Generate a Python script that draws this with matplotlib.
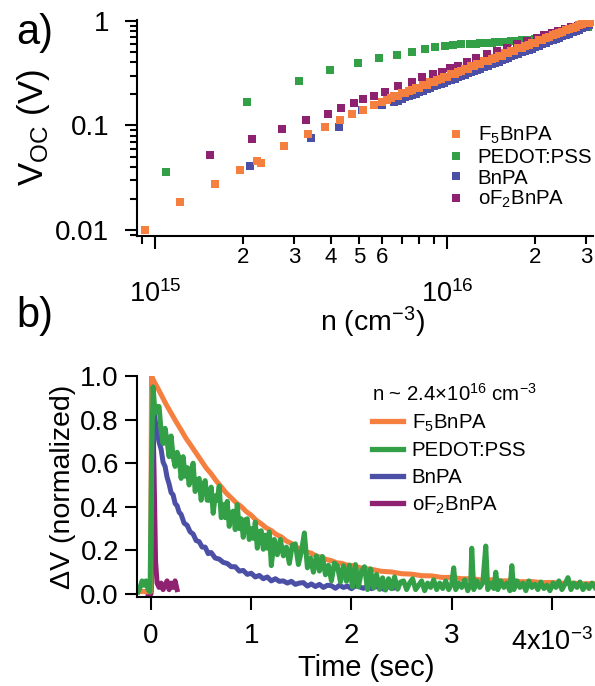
import matplotlib
matplotlib.use("Agg")
import matplotlib.pyplot as plt
import numpy as np

plt.rcParams["font.family"] = ["Liberation Sans", "DejaVu Sans"]
plt.rcParams["mathtext.fontset"] = "custom"
plt.rcParams["mathtext.rm"] = "Liberation Sans"
plt.rcParams["mathtext.it"] = "Liberation Sans:italic"
plt.rcParams["mathtext.bf"] = "Liberation Sans:bold"

ORANGE = "#f47f3e"
GREEN = "#33a047"
BLUE = "#4b4fa6"
PURPLE = "#8e2271"

# ---- panel a: Voc vs carrier density (n in units of 1e15 cm^-3, Voc in V) ----
f5_n = [0.924, 1.22, 1.60, 1.95, 2.23, 2.30, 2.77, 3.33, 3.82, 4.31, 4.72, 5.16,
        5.62, 6.0, 6.2, 6.4, 6.6, 6.8, 7.0, 7.2, 7.4, 7.6, 7.8, 8.0, 8.25, 8.5,
        8.75, 9.0, 9.25, 9.5, 9.75, 10.0, 10.3, 10.6, 10.9, 11.2, 11.5, 11.8,
        12.1, 12.4, 12.7, 13.0, 13.4, 13.8, 14.2, 14.6, 15.0, 15.4, 15.8, 16.2,
        16.6, 17.0, 17.5, 18.0, 18.5, 19.0, 19.5, 20.0, 20.6, 21.2, 21.8, 22.4,
        23.0, 23.6, 24.2, 24.8, 25.5, 26.2, 26.9, 27.6, 28.3, 29.0, 29.8, 30.6,
        31.4]
f5_v = [0.0100, 0.0184, 0.0275, 0.0375, 0.046, 0.044, 0.064, 0.082, 0.096, 0.113,
        0.128, 0.142, 0.156, 0.169, 0.177, 0.181, 0.190, 0.193, 0.203, 0.206,
        0.215, 0.218, 0.228, 0.230, 0.243, 0.246, 0.259, 0.262, 0.274, 0.277,
        0.290, 0.292, 0.308, 0.311, 0.327, 0.330, 0.347, 0.350, 0.367, 0.369,
        0.386, 0.389, 0.409, 0.414, 0.436, 0.440, 0.462, 0.466, 0.488, 0.493,
        0.515, 0.520, 0.545, 0.552, 0.578, 0.585, 0.612, 0.619, 0.650, 0.660,
        0.690, 0.700, 0.730, 0.741, 0.771, 0.782, 0.815, 0.830, 0.862, 0.878,
        0.905, 0.925, 0.945, 0.962, 0.982]

pedot_n = [1.09, 2.06, 3.11, 3.97, 4.95, 5.85, 6.76, 7.6, 8.4, 9.1, 9.8, 10.5,
           11.2, 12.0, 12.6, 13.0, 13.4, 13.8, 14.2, 14.6, 15.0, 15.4, 15.8,
           16.2, 16.6, 17.0, 17.5, 18.0, 18.5, 19.0, 19.5, 20.0, 20.6, 21.2,
           21.8, 22.4, 23.0, 23.6, 24.2, 24.8, 25.5, 26.2, 26.9, 27.6, 28.3,
           29.0, 29.8, 30.4]
pedot_v = [0.036, 0.168, 0.267, 0.337, 0.399, 0.44, 0.476, 0.502, 0.540, 0.560,
           0.580, 0.589, 0.598, 0.603, 0.607, 0.611, 0.612, 0.617, 0.618, 0.623,
           0.625, 0.628, 0.631, 0.634, 0.637, 0.641, 0.643, 0.649, 0.652, 0.658,
           0.662, 0.668, 0.676, 0.687, 0.697, 0.710, 0.721, 0.734, 0.746, 0.759,
           0.773, 0.789, 0.803, 0.819, 0.833, 0.849, 0.865, 0.878]

bn_n = [2.11, 3.41, 4.27, 5.12, 5.97, 6.6, 6.8, 7.0, 7.2, 7.4, 7.6, 7.8, 8.0,
        8.25, 8.5, 8.75, 9.0, 9.25, 9.5, 9.75, 10.0, 10.3, 10.6, 10.9, 11.2,
        11.5, 11.8, 12.1, 12.4, 12.7, 13.0, 13.4, 13.8, 14.2, 14.6, 15.0, 15.4,
        15.8, 16.2, 16.6, 17.0, 17.5, 18.0, 18.5, 19.0, 19.5, 20.0, 20.6, 21.2,
        21.8, 22.4, 23.0, 23.6, 24.2, 24.8, 25.5, 26.2, 26.9, 27.6, 28.3, 29.0,
        29.8, 30.6]
bn_v = [0.0407, 0.076, 0.0975, 0.141, 0.156, 0.168, 0.173, 0.180, 0.186, 0.191,
        0.197, 0.201, 0.208, 0.214, 0.222, 0.228, 0.236, 0.242, 0.250, 0.256,
        0.264, 0.271, 0.281, 0.288, 0.297, 0.305, 0.315, 0.322, 0.333, 0.339,
        0.350, 0.361, 0.374, 0.383, 0.398, 0.408, 0.422, 0.432, 0.446, 0.457,
        0.471, 0.484, 0.500, 0.513, 0.531, 0.542, 0.562, 0.578, 0.598, 0.615,
        0.635, 0.652, 0.672, 0.690, 0.712, 0.731, 0.756, 0.775, 0.802, 0.822,
        0.850, 0.872, 0.905]

of2_n = [1.54, 2.14, 2.72, 3.29, 3.90, 4.34, 4.81, 5.15, 5.6, 6.13, 6.81, 7.57,
         8.19, 8.97, 9.59, 10.2, 10.9, 11.7, 12.6, 13.7, 14.8, 16.0, 17.3, 18.7,
         20.3, 21.5, 22.8, 24.0, 25.3, 26.6, 28.0, 29.4, 30.8]
of2_v = [0.0526, 0.0738, 0.092, 0.113, 0.129, 0.148, 0.163, 0.178, 0.192, 0.208,
         0.240, 0.263, 0.293, 0.309, 0.327, 0.352, 0.373, 0.408, 0.446, 0.480,
         0.516, 0.548, 0.598, 0.644, 0.692, 0.725, 0.760, 0.795, 0.830, 0.865,
         0.900, 0.935, 0.965]

# ---- panel b: normalized transient photovoltage (time in ms) ----
f5_t = [-0.13, -0.08, -0.03, -0.005, 0.0, 0.005, 0.03, 0.06, 0.10, 0.15, 0.20,
        0.25, 0.30, 0.35, 0.40, 0.45, 0.50, 0.55, 0.60, 0.65, 0.70, 0.75, 0.80,
        0.85, 0.90, 0.95, 1.00, 1.05, 1.10, 1.15, 1.20, 1.25, 1.30, 1.35, 1.40,
        1.45, 1.50, 1.55, 1.60, 1.65, 1.70, 1.75, 1.80, 1.85, 1.90, 1.95, 2.00,
        2.10, 2.20, 2.30, 2.40, 2.50, 2.60, 2.70, 2.80, 2.90, 3.00, 3.10, 3.20,
        3.30, 3.40, 3.50, 3.60, 3.70, 3.80, 3.90, 4.00, 4.10, 4.20, 4.30, 4.43]
f5_dv = [0.010, 0.012, 0.010, 0.010, 0.50, 1.00, 0.975, 0.950, 0.915, 0.870, 0.830,
         0.790, 0.752, 0.713, 0.680, 0.646, 0.612, 0.578, 0.551, 0.519, 0.492, 0.463,
         0.441, 0.418, 0.401, 0.378, 0.361, 0.338, 0.322, 0.303, 0.291, 0.273, 0.262,
         0.243, 0.232, 0.214, 0.206, 0.193, 0.187, 0.173, 0.169, 0.158, 0.153, 0.143,
         0.141, 0.133, 0.131, 0.119, 0.113, 0.104, 0.101, 0.093, 0.091, 0.084, 0.083,
         0.076, 0.076, 0.070, 0.070, 0.064, 0.065, 0.060, 0.061, 0.056, 0.057, 0.052,
         0.053, 0.049, 0.050, 0.047, 0.047]

pedot_t = [-0.13, -0.11, -0.09, -0.07, -0.05, -0.03, -0.01, 0.005,
           0.02, 0.04, 0.06, 0.08, 0.10, 0.12, 0.14, 0.16, 0.18, 0.20, 0.22, 0.24,
           0.26, 0.28, 0.30, 0.32, 0.34, 0.36, 0.38, 0.40, 0.42, 0.44, 0.46, 0.48,
           0.50, 0.52, 0.54, 0.56, 0.58, 0.60, 0.62, 0.64, 0.66, 0.68, 0.70, 0.72,
           0.74, 0.76, 0.78, 0.80, 0.82, 0.84, 0.86, 0.88, 0.90, 0.92, 0.94, 0.96,
           0.98, 1.00, 1.02, 1.04, 1.06, 1.08, 1.10, 1.12, 1.14, 1.16, 1.18, 1.20,
           1.23, 1.26, 1.29, 1.32, 1.35, 1.38, 1.41, 1.44, 1.47, 1.50, 1.53, 1.56,
           1.59, 1.62, 1.65, 1.68, 1.71, 1.74, 1.77, 1.80, 1.83, 1.86, 1.89, 1.92,
           1.95, 1.98, 2.01, 2.04, 2.07, 2.10, 2.13, 2.16, 2.19, 2.22, 2.25, 2.28,
           2.31, 2.34, 2.37, 2.40, 2.43, 2.46, 2.49,
           2.52, 2.55, 2.58, 2.61, 2.64, 2.67, 2.70, 2.73, 2.76, 2.79, 2.82, 2.85,
           2.88, 2.91, 2.94, 2.97, 3.00, 3.02, 3.04, 3.07, 3.10, 3.13, 3.16, 3.19,
           3.20, 3.22, 3.25, 3.28, 3.31, 3.34, 3.36, 3.39, 3.42, 3.44, 3.46, 3.49,
           3.52, 3.55, 3.58, 3.60, 3.62, 3.65, 3.68, 3.71, 3.74, 3.77, 3.80, 3.83,
           3.86, 3.89, 3.92, 3.95, 3.98, 4.01, 4.04, 4.07, 4.10, 4.13, 4.16, 4.19,
           4.22, 4.25, 4.28, 4.31, 4.34, 4.37, 4.40, 4.43]
pedot_dv = [0.01, 0.03, 0.06, 0.04, 0.06, 0.02, 0.01, 0.60,
            0.95, 0.83, 0.86, 0.86, 0.75, 0.69, 0.76, 0.70, 0.63, 0.725, 0.63, 0.585,
            0.65, 0.625, 0.53, 0.63, 0.54, 0.58, 0.50, 0.57, 0.60, 0.47, 0.52, 0.53,
            0.43, 0.50, 0.52, 0.43, 0.43, 0.49, 0.37, 0.45, 0.43, 0.495, 0.35, 0.41,
            0.35, 0.425, 0.31, 0.37, 0.38, 0.295, 0.41, 0.30, 0.345, 0.26, 0.34, 0.345,
            0.25, 0.30, 0.255, 0.33, 0.21, 0.285, 0.29, 0.205, 0.27, 0.21, 0.285, 0.13,
            0.25, 0.18, 0.25, 0.175, 0.215, 0.14, 0.225, 0.23, 0.135, 0.195, 0.28, 0.12,
            0.165, 0.10, 0.175, 0.105, 0.172, 0.088, 0.132, 0.06, 0.142, 0.128, 0.055, 0.13,
            0.058, 0.132, 0.032, 0.135, 0.034, 0.105, 0.125, 0.02, 0.115, 0.027, 0.09, 0.021,
            0.074, 0.018, 0.07, 0.024, 0.078, 0.022, 0.055,
            0.06, 0.02, 0.05, 0.07, 0.02, 0.04, 0.06, 0.015, 0.05, 0.03, 0.065, 0.02,
            0.05, 0.025, 0.06, 0.02, 0.045, 0.12, 0.02, 0.05, 0.03, 0.065, 0.015, 0.05,
            0.21, 0.02, 0.06, 0.03, 0.05, 0.22, 0.02, 0.05, 0.025, 0.10, 0.02, 0.06,
            0.03, 0.05, 0.015, 0.13, 0.02, 0.06, 0.03, 0.05, 0.015, 0.06, 0.03, 0.045,
            0.02, 0.055, 0.025, 0.04, 0.015, 0.05, 0.03, 0.06, 0.02, 0.045, 0.075, 0.02,
            0.05, 0.03, 0.055, 0.02, 0.045, 0.025, 0.05, 0.03]

bn_t = [0.0, 0.01, 0.02, 0.04, 0.06, 0.08, 0.10, 0.12, 0.14, 0.16, 0.18, 0.20,
        0.22, 0.24, 0.26, 0.28, 0.30, 0.33, 0.36, 0.39, 0.42, 0.45, 0.48, 0.51,
        0.54, 0.57, 0.60, 0.64, 0.68, 0.72, 0.76, 0.80, 0.84, 0.88, 0.92, 0.96,
        1.00, 1.04, 1.08, 1.12, 1.16, 1.20, 1.24, 1.28, 1.32, 1.36, 1.40, 1.44,
        1.48, 1.52, 1.56, 1.60, 1.64, 1.68, 1.72, 1.76, 1.80, 1.84, 1.88, 1.92,
        1.96, 2.00, 2.04, 2.08, 2.12, 2.16, 2.20, 2.24, 2.28, 2.32, 2.36, 2.40,
        2.46]
bn_dv = [0.02, 0.60, 0.88, 0.80, 0.745, 0.695, 0.665, 0.605, 0.585, 0.535, 0.505,
         0.465, 0.455, 0.415, 0.405, 0.375, 0.365, 0.325, 0.315, 0.285, 0.275, 0.245,
         0.24, 0.215, 0.215, 0.185, 0.19, 0.165, 0.16, 0.145, 0.14, 0.125, 0.125,
         0.105, 0.108, 0.09, 0.095, 0.078, 0.085, 0.07, 0.078, 0.06, 0.07, 0.058,
         0.06, 0.05, 0.058, 0.044, 0.05, 0.052, 0.036, 0.046, 0.034, 0.044, 0.03,
         0.04, 0.038, 0.026, 0.04, 0.03, 0.036, 0.024, 0.038, 0.032, 0.026, 0.038,
         0.024, 0.034, 0.03, 0.022, 0.036, 0.026, 0.03]

of2_t = [-0.03, 0.0, 0.012, 0.03, 0.045, 0.06, 0.08, 0.10, 0.12, 0.14, 0.16,
         0.18, 0.20, 0.22, 0.24, 0.26]
of2_dv = [0.0, 0.0, 0.98, 0.55, 0.15, 0.05, 0.03, 0.05, 0.02, 0.04, 0.06,
          0.02, 0.05, 0.03, 0.06, 0.02]

fig = plt.figure(figsize=(5.95, 6.86), dpi=100)

# ------------------------------------------------------------------ panel a
ax1 = fig.add_axes([0.2303, 0.656, 0.7664, 0.3149])
ms = 5.3
e15 = 1e15
h_pedot, = ax1.plot(np.array(pedot_n) * e15, pedot_v, "s", color=GREEN, ms=ms, mew=0)
h_bn, = ax1.plot(np.array(bn_n) * e15, bn_v, "s", color=BLUE, ms=ms, mew=0)
h_of2, = ax1.plot(np.array(of2_n) * e15, of2_v, "s", color=PURPLE, ms=ms, mew=0)
h_f5, = ax1.plot(np.array(f5_n) * e15, f5_v, "s", color=ORANGE, ms=ms, mew=0)

ax1.set_xscale("log")
ax1.set_yscale("log")
ax1.set_xlim(8.67e14, 3.16e16)
ax1.set_ylim(0.00877, 1.02)

ax1.set_xticks([1e15, 1e16], ["$10^{15}$", "$10^{16}$"])
minor_x = [9e14] + [k * 1e15 for k in range(2, 10)] + [2e16, 3e16]
minor_lab = [""] + ["2", "3", "4", "5", "6", "", "", ""] + ["2", "3"]
ax1.set_xticks(minor_x, minor_lab, minor=True)
ax1.tick_params(axis="x", which="major", direction="out", length=9, width=1.5,
                labelsize=19.5, pad=23)
ax1.tick_params(axis="x", which="minor", direction="out", length=6, width=1.5,
                labelsize=16, pad=2)

ax1.set_yticks([0.01, 0.1, 1], ["0.01", "0.1", "1"])
ax1.tick_params(axis="y", which="major", direction="out", length=9, width=1.5,
                labelsize=20, pad=11)
ax1.tick_params(axis="y", which="minor", direction="out", length=5, width=1.5,
                labelleft=False)

for side in ("top", "right"):
    ax1.spines[side].set_visible(False)
for side in ("left", "bottom"):
    ax1.spines[side].set_linewidth(1.5)

ax1.set_ylabel("V$_{\\mathrm{OC}}$ (V)", fontsize=25, labelpad=2)
fig.text(372 / 595, 1 - 322 / 686, "n (cm$^{-3}$)", fontsize=20.5,
         ha="center", va="center")

ax1.legend([h_f5, h_pedot, h_bn, h_of2],
           ["F$_5$BnPA", "PEDOT:PSS", "BnPA", "oF$_2$BnPA"],
           loc="upper left", bbox_to_anchor=(446 / 595, 1 - 125 / 686),
           bbox_transform=fig.transFigure, frameon=False, fontsize=14.7,
           handlelength=1.0, handletextpad=0.55, labelspacing=0.08,
           borderpad=0, borderaxespad=0, markerscale=1.1)

# ------------------------------------------------------------------ panel b
ax2 = fig.add_axes([0.2303, 0.1297, 0.7697, 0.3222])
lw = 3.6
sec = 1e-3
l_of2, = ax2.plot(np.array(of2_t) * sec, of2_dv, color=PURPLE, lw=lw, zorder=2.0)
l_bn, = ax2.plot(np.array(bn_t) * sec, bn_dv, color=BLUE, lw=lw, zorder=2.1)
l_f5, = ax2.plot(np.array(f5_t) * sec, f5_dv, color=ORANGE, lw=lw, zorder=2.2)
l_pedot, = ax2.plot(np.array(pedot_t) * sec, pedot_dv, color=GREEN, lw=lw,
                    zorder=2.3)

ax2.set_xlim(-0.14e-3, 4.43e-3)
ax2.set_ylim(-0.014, 1.0)
ax2.set_xticks([0, 1e-3, 2e-3, 3e-3, 4e-3], ["0", "1", "2", "3", ""])
ax2.set_yticks([0, 0.2, 0.4, 0.6, 0.8, 1.0],
               ["0.0", "0.2", "0.4", "0.6", "0.8", "1.0"])
ax2.tick_params(axis="x", direction="out", length=9, width=1.5,
                labelsize=20, pad=10)
ax2.tick_params(axis="y", direction="out", length=9, width=1.5,
                labelsize=20, pad=4)
for side in ("top", "right"):
    ax2.spines[side].set_visible(False)
for side in ("left", "bottom"):
    ax2.spines[side].set_linewidth(1.5)

ax2.set_ylabel("ΔV (normalized)", fontsize=20.5, labelpad=3)
ax2.set_xlabel("Time (sec)", fontsize=21, labelpad=3)
ax2.text(4e-3, -0.205, "4x10$^{-3}$", fontsize=19.5, ha="center", va="center",
         transform=ax2.get_xaxis_transform())

leg = ax2.legend([l_f5, l_pedot, l_bn, l_of2],
                 ["F$_5$BnPA", "PEDOT:PSS", "BnPA", "oF$_2$BnPA"],
                 title="n ~ 2.4×10$^{16}$ cm$^{-3}$", title_fontsize=14.7,
                 alignment="left",
                 loc="upper left", bbox_to_anchor=(372 / 595, 1 - 383 / 686),
                 bbox_transform=fig.transFigure, frameon=False, fontsize=14.7,
                 handlelength=1.5, handletextpad=0.45, labelspacing=0.37,
                 borderpad=0, borderaxespad=0)
for line in leg.get_lines():
    line.set_linewidth(3.8)

fig.text(16 / 595, 1 - 33 / 686, "a)", fontsize=30, ha="left", va="center")
fig.text(16 / 595, 1 - 316 / 686, "b)", fontsize=30, ha="left", va="center")

fig.savefig("out.png", dpi=100)
